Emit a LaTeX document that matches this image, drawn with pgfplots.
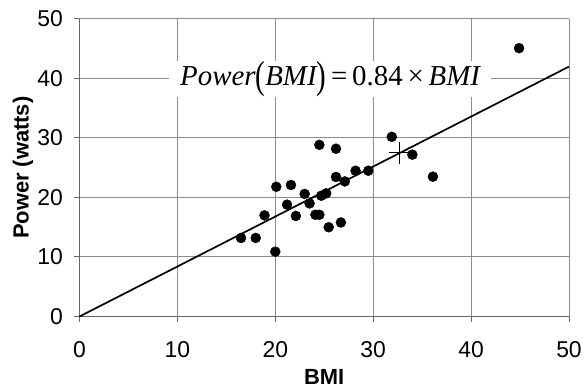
\documentclass[border=0pt]{standalone}
\usepackage{fontspec}
\setmainfont{Liberation Sans}
\newfontfamily\timesfont{Liberation Serif}
\usepackage{graphicx}
\usepackage{pgfplots}
\usepackage{pgfplotstable}
\pgfplotsset{compat=1.18}

\pgfplotstableread{
x y
16.5 13.2
18.0 13.2
20.0 10.9
18.9 17.0
20.1 21.8
21.2 18.8
21.6 22.1
22.1 16.9
23.0 20.6
23.5 19.0
24.1 17.1
24.5 17.1
24.7 20.3
25.2 20.7
24.5 28.85
25.45 15.0
26.2 28.2
26.2 23.45
26.7 15.8
27.1 22.7
28.2 24.5
29.5 24.5
31.9 30.2
34.0 27.2
36.1 23.5
44.9 45.1
}\bmidata

\begin{document}
\begin{tikzpicture}
\begin{axis}[name=ax, scale only axis, width=489.5bp, height=297.5bp,
  xmin=0, xmax=50, ymin=0, ymax=50,
  xtick={0,10,...,50}, ytick={0,10,...,50},
  axis x line*=bottom, axis y line*=left,
  axis line style={black!60, line width=1bp},
  grid=major, major grid style={black!45, line width=1bp},
  tick style={black!60, line width=1bp}, tick align=outside, major tick length=5bp,
  ticklabel style={font=\fontsize{23}{26}\selectfont},
  xticklabel style={yshift=-16bp},
  yticklabel style={xshift=-8bp},
  /pgf/number format/assume math mode=true,
  xlabel={BMI}, ylabel={Power (watts)},
  label style={font=\fontsize{22}{26}\selectfont\bfseries},
  xlabel style={at={(axis description cs:0.5,-0.2034)}, anchor=center},
  ylabel style={at={(axis description cs:-0.1154,0.5)}, anchor=center},
  clip=false]
\addplot[black, line width=1.7bp, no marks] coordinates {(0,0) (50,42)};
\addplot[only marks, mark=*, mark size=5bp, black] table[x=x, y=y] {\bmidata};
\addplot[only marks, mark=+, mark size=11bp, black, mark options={line width=0.8bp}] coordinates {(32.7,27.5)};
\node[fill=white, inner xsep=11bp, inner ysep=0bp, minimum height=32bp, anchor=center]
  at (axis cs:25.6,39.9)
  {\timesfont\fontsize{29}{32}\selectfont\itshape Power\raisebox{-3bp}{\upshape\scalebox{1}[1.35]{(}}BMI\raisebox{-3bp}{\upshape\scalebox{1}[1.35]{)}}\upshape\,=\,0.84\,×\,\itshape BMI};
\end{axis}
\path (ax.south west) ++(-79.5bp,-68.5bp) (ax.north east) ++(19bp,19bp);
\end{tikzpicture}
\end{document}
